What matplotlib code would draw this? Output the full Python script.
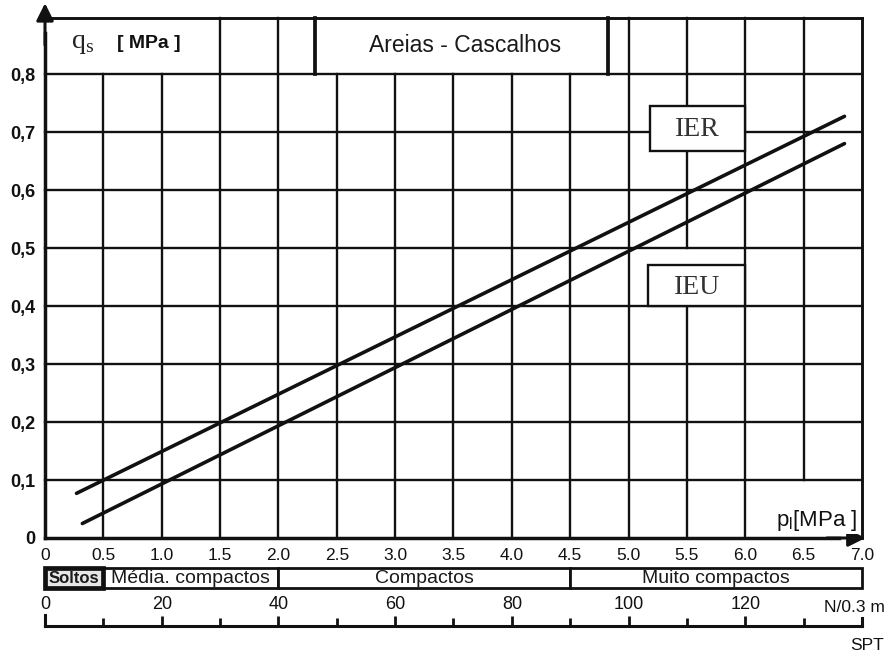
import numpy as np
import matplotlib
matplotlib.use("Agg")
import matplotlib.pyplot as plt
from matplotlib.patches import Rectangle

plt.rcParams['font.family'] = ['Liberation Sans', 'DejaVu Sans']

# ---------------- data ----------------
p_ticks = [0, 0.5, 1.0, 1.5, 2.0, 2.5, 3.0, 3.5, 4.0, 4.5, 5.0, 5.5, 6.0, 6.5, 7.0]
p_tick_labels = ["0", "0.5", "1.0", "1.5", "2.0", "2.5", "3.0", "3.5", "4.0",
                 "4.5", "5.0", "5.5", "6.0", "6.5", "7.0"]
q_ticks = [0, 0.1, 0.2, 0.3, 0.4, 0.5, 0.6, 0.7, 0.8]
q_tick_labels = ["0", "0,1", "0,2", "0,3", "0,4", "0,5", "0,6", "0,7", "0,8"]

ier_p = [0.27, 6.85]
ier_q = [0.077, 0.727]
ieu_p = [0.32, 6.85]
ieu_q = [0.025, 0.680]

density_classes = ["Soltos", "Média. compactos", "Compactos", "Muito compactos"]
density_from = [0.0, 0.5, 2.0, 4.5]
density_to = [0.5, 2.0, 4.5, 7.0]

spt_major = [0, 20, 40, 60, 80, 100, 120]
spt_minor = [10, 30, 50, 70, 90, 110, 130, 140]
spt_max = 140

# ---------------- figure ----------------
W, H = 887, 657
fig = plt.figure(figsize=(W / 100, H / 100), dpi=100)

def fx(px):
    return px / W

def fy(py):
    return 1 - py / H

x0, x1 = 45, 862
y0, y1 = 538, 74
ax = fig.add_axes([fx(x0), fy(y0), fx(x1) - fx(x0), fy(y1) - fy(y0)])
ax.set_xlim(0, 7)
ax.set_ylim(0, 0.8)
for s in ax.spines.values():
    s.set_visible(False)
ax.set_facecolor('none')

LW = 1.7
K = '#111111'
top_q = 0.897

ax.set_xticks(p_ticks, p_tick_labels)
ax.set_yticks(q_ticks, q_tick_labels)
ax.tick_params(axis='x', length=0, pad=7, labelsize=12.5, colors=K)
ax.tick_params(axis='y', length=0, pad=7, labelsize=13, colors=K)
for t in ax.get_yticklabels():
    t.set_fontweight('bold')

# horizontal grid
for q in q_ticks[1:]:
    ax.plot([0, 7], [q, q], color=K, lw=LW, clip_on=False, zorder=1)
# vertical grid
for p in p_ticks[1:-1]:
    if p == 6.5:
        segs = [(0.1, 0.8)]
    elif p == 5.5:
        segs = [(0, 0.4), (0.5, 0.8)]
    else:
        segs = [(0, 0.8)]
    for a, b in segs:
        ax.plot([p, p], [a, b], color=K, lw=LW, clip_on=False, zorder=1)

# outer frame
ax.plot([0, 7], [top_q, top_q], color=K, lw=LW + 0.4, clip_on=False, zorder=3)
ax.plot([7, 7], [0, top_q], color=K, lw=LW + 0.4, clip_on=False, zorder=3)
ax.plot([0, 0], [0, 0.87], color=K, lw=LW + 0.8, clip_on=False, zorder=3)
ax.plot([0, 6.8], [0, 0], color=K, lw=LW + 0.8, clip_on=False, zorder=3)
ax.annotate('', xy=(0, 0.922), xytext=(0, 0.85), annotation_clip=False,
            arrowprops=dict(arrowstyle='-|>', color=K, lw=2.2, mutation_scale=26,
                            shrinkA=0, shrinkB=0), zorder=4)
ax.annotate('', xy=(7.03, 0), xytext=(6.7, 0), annotation_clip=False,
            arrowprops=dict(arrowstyle='-|>', color=K, lw=2.2, mutation_scale=26,
                            shrinkA=0, shrinkB=0), zorder=4)

# top header row
for p in [1.5, 2.0, 5.0, 5.5, 6.0, 6.5]:
    ax.plot([p, p], [0.8, top_q], color=K, lw=LW, clip_on=False, zorder=2)
for p in [2.31, 4.82]:
    ax.plot([p, p], [0.8, top_q], color=K, lw=LW + 1.0, clip_on=False, zorder=2)
ax.text(0.22, 0.845, r"q$_\mathregular{s}$", family='Liberation Serif', fontsize=20,
        ha='left', va='baseline', color='#222222')
ax.text(0.62, 0.852, "[ MPa ]", fontsize=14, fontweight='bold', ha='left',
        va='center', color=K)
ax.text(3.6, 0.85, "Areias - Cascalhos", fontsize=16.5, ha='center',
        va='center', color='#1a1a1a')

# curves
ax.plot(ier_p, ier_q, color=K, lw=2.6, solid_capstyle='round', zorder=5)
ax.plot(ieu_p, ieu_q, color=K, lw=2.6, solid_capstyle='round', zorder=5)

# curve labels
for (pa, pb, qa, qb, lab) in [(5.18, 6.0, 0.668, 0.745, "IER"),
                               (5.17, 6.0, 0.40, 0.47, "IEU")]:
    ax.add_patch(Rectangle((pa, qa), pb - pa, qb - qa, facecolor='white',
                           edgecolor=K, lw=LW, zorder=6))
    ax.text((pa + pb) / 2, (qa + qb) / 2 - 0.003, lab, family='Liberation Serif',
            fontsize=20, ha='center', va='center', color='#333333', zorder=7)

# p_l label
ax.text(6.96, 0.031, r"p$_\mathregular{l}$[MPa ]", fontsize=16, ha='right',
        va='center', color=K, zorder=7,
        bbox=dict(facecolor='white', edgecolor='none', pad=1))

# ---------------- density class bar ----------------
axb = fig.add_axes([fx(x0), fy(588), fx(x1) - fx(x0), fy(568) - fy(588)])
axb.set_xlim(0, 7)
axb.set_ylim(-0.5, 0.5)
axb.axis('off')
widths = [b - a for a, b in zip(density_from, density_to)]
axb.barh([0] * 4, widths, left=density_from, height=1.0, color='white',
         edgecolor=K, lw=2.0, clip_on=False)
axb.barh([0], [widths[0]], left=[density_from[0]], height=1.0, color='#e6e6e6',
         edgecolor=K, lw=3.4, clip_on=False)
for a, b, lab in zip(density_from, density_to, density_classes):
    is_first = lab == density_classes[0]
    axb.text((a + b) / 2, -0.02, lab, ha='center', va='center',
             fontsize=12 if is_first else 14, color='#1a1a1a',
             fontweight='bold' if is_first else 'normal')

# ---------------- SPT scale ----------------
axs = fig.add_axes([fx(x0), fy(626), fx(x1) - fx(x0), fy(614) - fy(626)])
axs.set_xlim(0, spt_max)
axs.set_ylim(0, 1)
axs.patch.set_visible(False)
for side in ['top', 'left', 'right']:
    axs.spines[side].set_visible(False)
axs.spines['bottom'].set_linewidth(2.2)
axs.spines['bottom'].set_color(K)
axs.set_yticks([])
axs.set_xticks(spt_major, [str(v) for v in spt_major])
axs.set_xticks(spt_minor, minor=True)
axs.tick_params(axis='x', which='both', bottom=True, top=False, labelbottom=False,
                labeltop=True, direction='in', color=K, width=2)
axs.tick_params(axis='x', which='major', length=7, pad=1, labelsize=13, labelcolor=K)
axs.tick_params(axis='x', which='minor', length=6)
axs.plot([0, 0], [0, 0.9], color=K, lw=2.2, clip_on=False)
axs.plot([spt_max, spt_max], [0, 0.7], color=K, lw=2.2, clip_on=False)

fig.text(0.998, fy(607), "N/0.3 m", ha='right', va='center', fontsize=12.5, color=K)
fig.text(0.996, fy(646), "SPT", ha='right', va='center', fontsize=12.5, color=K)

fig.savefig("out.png", dpi=100, facecolor='white')
